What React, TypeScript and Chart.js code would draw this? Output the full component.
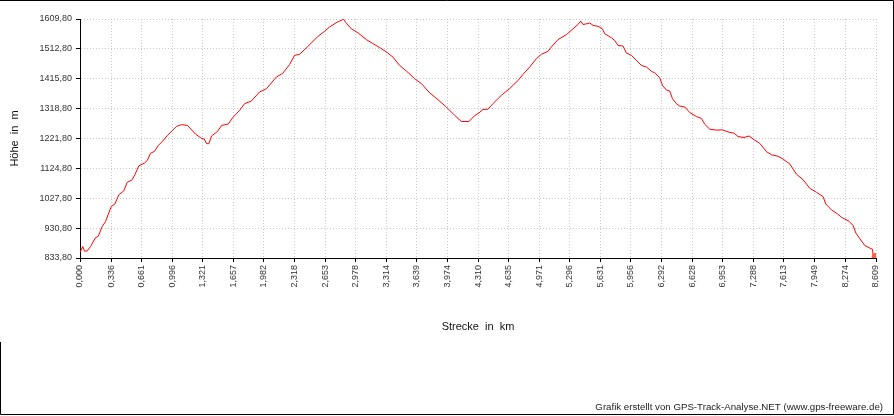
import React, { useEffect, useRef } from "react";
import { Chart, registerables } from "chart.js";

Chart.register(...registerables);

const distanceKm = [
  0.0, 0.03, 0.049, 0.078, 0.114, 0.168, 0.197, 0.24, 0.276, 0.338, 0.377, 0.42, 0.474, 0.51, 0.565, 0.593,
  0.636, 0.698, 0.727, 0.763, 0.806, 0.846, 0.896, 0.943, 0.997, 1.044, 1.098, 1.163, 1.25, 1.315, 1.344,
  1.369, 1.394, 1.423, 1.485, 1.531, 1.603, 1.653, 1.726, 1.78, 1.852, 1.942, 2.015, 2.123, 2.194, 2.267,
  2.321, 2.375, 2.465, 2.573, 2.646, 2.7, 2.772, 2.808, 2.851, 2.873, 2.934, 3.006, 3.097, 3.168, 3.241,
  3.313, 3.385, 3.457, 3.53, 3.619, 3.692, 3.782, 3.871, 3.962, 4.052, 4.125, 4.207, 4.268, 4.315, 4.358,
  4.412, 4.467, 4.557, 4.647, 4.737, 4.791, 4.864, 4.936, 4.99, 5.062, 5.098, 5.17, 5.261, 5.332, 5.386,
  5.416, 5.44, 5.494, 5.513, 5.549, 5.603, 5.65, 5.675, 5.747, 5.783, 5.819, 5.873, 5.91, 5.963, 6.018,
  6.072, 6.126, 6.18, 6.216, 6.27, 6.3, 6.343, 6.378, 6.408, 6.451, 6.487, 6.541, 6.595, 6.667, 6.721,
  6.757, 6.811, 6.884, 6.949, 7.009, 7.074, 7.117, 7.182, 7.236, 7.28, 7.352, 7.425, 7.479, 7.55, 7.604,
  7.677, 7.749, 7.821, 7.893, 7.966, 8.037, 8.066, 8.128, 8.193, 8.236, 8.318, 8.362, 8.391, 8.435, 8.489,
  8.543, 8.571, 8.578, 8.609,
];

const elevationM = [
  852, 871, 856, 857, 871, 900, 904, 936, 952, 1001, 1009, 1039, 1052, 1079, 1088, 1104,
  1133, 1142, 1150, 1174, 1180, 1199, 1214, 1231, 1247, 1261, 1267, 1264, 1236, 1222, 1220,
  1205, 1205, 1230, 1244, 1264, 1269, 1290, 1313, 1335, 1343, 1373, 1383, 1421, 1434, 1462,
  1492, 1495, 1521, 1553, 1570, 1584, 1598, 1603, 1609, 1599, 1578, 1565, 1543, 1530, 1517,
  1503, 1486, 1459, 1441, 1416, 1400, 1370, 1348, 1324, 1297, 1277, 1277, 1296, 1305, 1316,
  1317, 1335, 1362, 1384, 1410, 1430, 1454, 1481, 1495, 1505, 1519, 1543, 1559, 1578, 1592,
  1603, 1592, 1595, 1597, 1589, 1586, 1578, 1562, 1549, 1540, 1524, 1522, 1499, 1492, 1475,
  1459, 1454, 1440, 1435, 1419, 1394, 1379, 1376, 1351, 1335, 1327, 1324, 1306, 1293, 1287,
  1268, 1252, 1249, 1250, 1243, 1239, 1228, 1225, 1230, 1220, 1206, 1179, 1169, 1164, 1155,
  1139, 1106, 1088, 1060, 1047, 1033, 1009, 990, 977, 966, 953, 939, 915, 896, 874,
  866, 862, 842, 836,
];

const xTickLabels = [
  "0,000", "0,336", "0,661", "0,996", "1,321", "1,657", "1,982", "2,318", "2,653", "2,978",
  "3,314", "3,639", "3,974", "4,310", "4,635", "4,971", "5,296", "5,631", "5,956", "6,292",
  "6,628", "6,953", "7,288", "7,613", "7,949", "8,274", "8,609",
];

const yTickLabels = ["833,80", "930,80", "1027,80", "1124,80", "1221,80", "1318,80", "1415,80", "1512,80", "1609,80"];

const xTitle = "Strecke  in  km";
const yTitle = "Höhe  in  m";
const footerText = "Grafik erstellt von GPS-Track-Analyse.NET (www.gps-freeware.de)";

const FONT = "'Liberation Sans', Arial, Helvetica, sans-serif";
const toNum = (s: string) => parseFloat(s.replace(",", "."));

export default function App() {
  const ref = useRef<HTMLCanvasElement | null>(null);

  useEffect(() => {
    if (!ref.current) return;
    const lastIdx = distanceKm.length - 1;
    const frame = {
      id: "frame",
      afterDraw(chart: any) {
        const ctx = chart.ctx;
        ctx.save();
        ctx.strokeStyle = "#000";
        ctx.lineWidth = 1;
        ctx.beginPath();
        ctx.moveTo(0, 0.5);
        ctx.lineTo(893.5, 0.5);
        ctx.lineTo(893.5, 414.5);
        ctx.lineTo(0.5, 414.5);
        ctx.lineTo(0.5, 342);
        ctx.stroke();
        ctx.fillStyle = "#222";
        ctx.font = `9.7px ${FONT}`;
        ctx.textAlign = "right";
        ctx.textBaseline = "alphabetic";
        ctx.fillText(footerText, 883, 410);
        ctx.restore();
      },
    };

    const chart = new Chart(ref.current, {
      type: "line",
      data: {
        datasets: [
          {
            data: distanceKm.map((d, i) => ({ x: d, y: elevationM[i] })),
            borderColor: "#ff0000",
            borderWidth: 1,
            tension: 0,
            pointRadius: distanceKm.map((_, i) => (i === lastIdx ? 4 : 0)),
            pointBackgroundColor: "#f26a45",
            pointBorderColor: "#f05a35",
            pointBorderWidth: 1,
            clip: 0,
          } as any,
        ],
      },
      plugins: [frame],
      options: {
        animation: false,
        responsive: false,
        maintainAspectRatio: false,
        events: [],
        layout: { padding: { top: 19, right: 18, left: 0, bottom: 76 } },
        plugins: { legend: { display: false }, tooltip: { enabled: false }, title: { display: false } },
        scales: {
          x: {
            type: "linear",
            min: 0,
            max: 8.609,
            afterBuildTicks: (s: any) => {
              s.ticks = xTickLabels.map((l) => ({ value: toNum(l) }));
            },
            afterFit: (s: any) => {
              s.height = 82;
            },
            ticks: {
              autoSkip: false,
              maxRotation: 90,
              minRotation: 90,
              padding: 3,
              color: "#333",
              font: { family: FONT, size: 9 },
              callback: (_v: any, i: number) => xTickLabels[i],
            },
            grid: {
              color: "#c8c8c8",
              tickColor: "#000",
              tickLength: 4,
              lineWidth: 1,
            },
            border: { display: true, color: "#000", width: 1, dash: [1, 2] },
            title: {
              display: true,
              text: xTitle,
              color: "#111",
              font: { family: FONT, size: 11 },
              padding: { top: 0, bottom: 6 },
            },
          },
          y: {
            type: "linear",
            min: 833.8,
            max: 1609.8,
            afterBuildTicks: (s: any) => {
              s.ticks = yTickLabels.map((l) => ({ value: toNum(l) }));
            },
            afterFit: (s: any) => {
              s.width = 80;
            },
            ticks: {
              autoSkip: false,
              padding: 4,
              color: "#333",
              font: { family: FONT, size: 9 },
              callback: (_v: any, i: number) => yTickLabels[i],
            },
            grid: {
              color: "#c8c8c8",
              tickColor: "#000",
              tickLength: 4,
              lineWidth: 1,
            },
            border: { display: true, color: "#000", width: 1, dash: [1, 2] },
            title: {
              display: true,
              text: yTitle,
              color: "#111",
              font: { family: FONT, size: 11 },
              padding: { top: 8, bottom: 0 },
            },
          },
        },
      } as any,
    });
    return () => chart.destroy();
  }, []);

  return (
    <div style={{ position: "fixed", left: 0, top: 0, width: 894, height: 416, background: "#fff" }}>
      <canvas ref={ref} width={894} height={416} style={{ width: 894, height: 416, display: "block" }} />
    </div>
  );
}
